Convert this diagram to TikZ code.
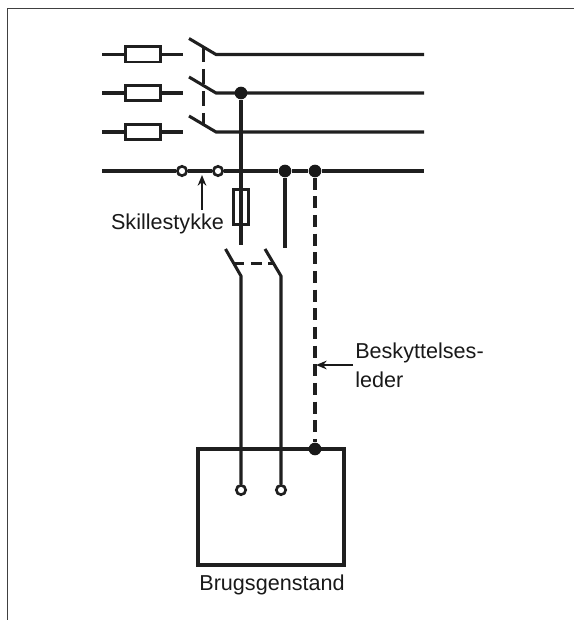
\documentclass[tikz,border=0pt]{standalone}
\usepackage{fontspec}
\setmainfont{Liberation Sans}
\usetikzlibrary{arrows.meta}
\tikzset{
  wire/.style={line width=2.28pt,black!88},
  bent/.style={line width=2.28pt,black!88},
  prot/.style={wire,dash pattern=on 9pt off 5pt},
  fusebox/.style={draw=black!88,line width=2pt,fill=white,minimum width=26.5pt,minimum height=11.5pt,inner sep=0pt},
  vfusebox/.style={draw=black!88,line width=2pt,minimum width=11.5pt,minimum height=26.5pt,inner sep=0pt},
  hollow/.style={circle,draw=black!88,line width=2pt,fill=white,minimum size=7pt,inner sep=0pt},
  solid dot/.style={circle,fill=black!90,minimum size=9.5pt,inner sep=0pt},
  lbl/.style={font=\fontsize{16.2}{19}\selectfont,text=black!90,inner sep=0pt,anchor=base},
  lblw/.style={lbl,anchor=base west},
  pointer/.style={line width=1.5pt,black!90,-{Stealth[length=8pt,width=6.5pt]}}
}
\begin{document}
\begin{tikzpicture}[x=0.75pt,y=-0.75pt]
  \useasboundingbox (0,0) rectangle (574,620);
  \draw[line width=1.4pt,black!75] (7.5,620) -- (7.5,8.5) -- (574,8.5);
  % three phases
  \foreach \name/\ya in {a/54.5,b/93,c/132}{
    \coordinate (\name l) at (102,\ya);
    \coordinate (\name g) at (183,\ya);
    \coordinate (\name t) at (189,\ya-16);
    \coordinate (\name s) at (216,\ya);
    \coordinate (\name r) at (424,\ya);
    \draw[wire] (\name l) -- (\name g);
    \node[fusebox] (\name f) at (143,\ya) {};
    \draw[bent] (\name t) -- (\name s) -- (\name r);
  }
  % ganging of the three switches
  \coordinate (gangtop) at (203.5,47);
  \coordinate (gangbot) at (203.5,124);
  \draw[wire,dash pattern=on 11pt off 5.5pt] (gangtop) -- (gangbot);
  % neutral
  \coordinate (nl) at (102,171);
  \coordinate (nr) at (424,171);
  \node[hollow] (n1) at (182,171) {};
  \node[hollow] (n2) at (218,171) {};
  \node[solid dot] (n3) at (285,171) {};
  \node[solid dot] (n4) at (315,171) {};
  \node[solid dot] (p) at (241,93) {};
  \draw[wire] (nl) -- (n1);
  \draw[wire] (n1) -- (n2);
  \draw[wire] (n2) -- (n3);
  \draw[wire] (n3) -- (n4);
  \draw[wire] (n4) -- (nr);
  % branch with fuse
  \node[vfusebox] (fv) at (241,207) {};
  \coordinate (pend) at (241,245);
  \coordinate (nend) at (285,248);
  \draw[wire] (p) -- (pend);
  \draw[wire] (n3) -- (nend);
  % double pole switch
  \coordinate (s1t) at (225.5,249);
  \coordinate (s1b) at (241,276);
  \coordinate (s2t) at (265,249);
  \coordinate (s2b) at (281,276);
  \coordinate (gl) at (233.5,263.5);
  \coordinate (gr) at (273,263.5);
  \draw[wire,dash pattern=on 8pt off 5pt] (gl) -- (gr);
  % load
  \node[draw=black!88,line width=2.28pt,minimum width=109.5pt,minimum height=87pt,inner sep=0pt] (load) at (271,507) {};
  \node[hollow] (t1) at (241,490) {};
  \node[hollow] (t2) at (281,490) {};
  \node[solid dot] (pe) at (315,449) {};
  \draw[bent] (s1t) -- (s1b) -- (t1);
  \draw[bent] (s2t) -- (s2b) -- (t2);
  \draw[prot] (n4) -- (pe);
  % labels
  \node[lbl] (skille) at (167.5,229) {Skillestykke};
  \node[lblw] (besk) at (355,358) {Beskyttelses-};
  \node[lblw] (leder) at (355,387) {leder};
  \node[lbl] (brugs) at (272,590) {Brugsgenstand};
  \coordinate (skarrow) at (202,210);
  \coordinate (sktip) at (202,175);
  \coordinate (bearrow) at (353,365);
  \coordinate (betip) at (316,365);
  \draw[pointer] (skarrow) -- (sktip);
  \draw[pointer] (bearrow) -- (betip);
\end{tikzpicture}
\end{document}
